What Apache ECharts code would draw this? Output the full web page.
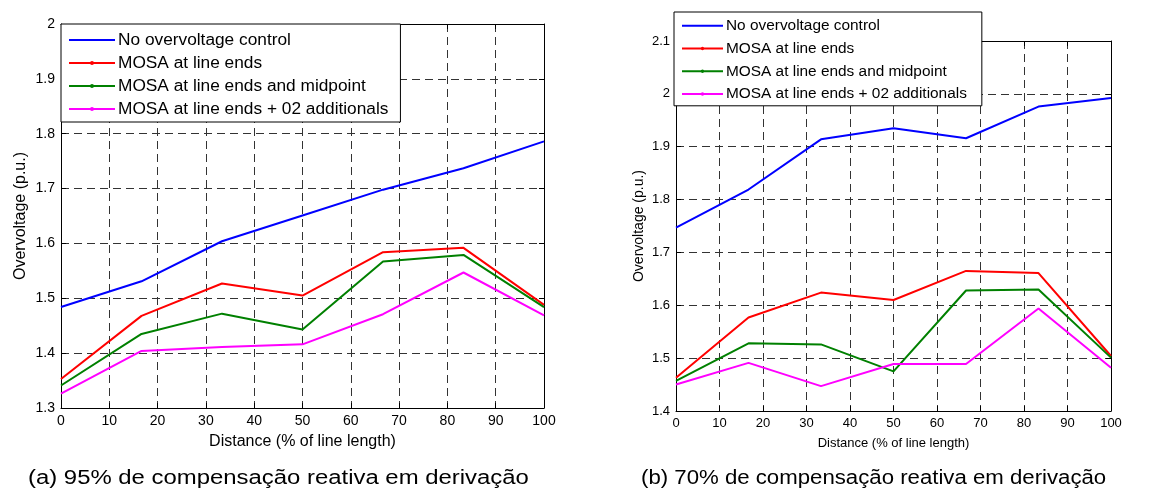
<!DOCTYPE html>
<html>
<head>
<meta charset="utf-8">
<script src="https://cdn.jsdelivr.net/npm/echarts@6/dist/echarts.min.js"></script>
<style>html,body{margin:0;padding:0;background:#fff}#c{width:1158px;height:488px}</style>
</head>
<body>
<div id="c"></div>
<script>
const distances = [0, 16.67, 33.33, 50, 66.67, 83.33, 100];
const seriesNames = ['No overvoltage control', 'MOSA at line ends', 'MOSA at line ends and midpoint', 'MOSA at line ends + 02 additionals'];
const colors = ['#0000ff', '#ff0000', '#008000', '#ff00ff'];
// (a) 95% compensation
const a_none = [1.484, 1.531, 1.604, 1.651, 1.698, 1.737, 1.786];
const a_ends = [1.353, 1.468, 1.527, 1.505, 1.584, 1.592, 1.488];
const a_mid  = [1.341, 1.435, 1.472, 1.443, 1.567, 1.579, 1.484];
const a_add  = [1.326, 1.404, 1.411, 1.416, 1.471, 1.547, 1.469];
// (b) 70% compensation
const b_none = [1.747, 1.819, 1.914, 1.935, 1.916, 1.976, 1.992];
const b_ends = [1.463, 1.577, 1.624, 1.610, 1.665, 1.661, 1.504];
const b_mid  = [1.457, 1.528, 1.526, 1.475, 1.628, 1.630, 1.501];
const b_add  = [1.450, 1.491, 1.447, 1.489, 1.489, 1.594, 1.482];
const xAxisName = 'Distance (% of line length)';
const yAxisName = 'Overvoltage (p.u.)';
const captionA = '(a) 95% de compensação reativa em derivação';
const captionB = '(b) 70% de compensação reativa em derivação';

const FONT = 'Liberation Sans, Arial, sans-serif';
const chart = echarts.init(document.getElementById('c'), null, {renderer: 'canvas'});

function pairs(vals) { return distances.map((d, i) => [d, vals[i]]); }

const gridLine = {show: true, lineStyle: {color: '#333', type: [8, 5], width: 1}};
const axLine = {show: true, onZero: false, lineStyle: {color: '#000', width: 1}};
const tick = {show: true, inside: true, length: 5, lineStyle: {color: '#000'}};

function xAxes(gi, fs, nameFs, gap) {
  return [
    {gridIndex: gi, type: 'value', min: 0, max: 100, interval: 10, position: 'bottom',
     axisLine: axLine, axisTick: tick, splitLine: gridLine,
     axisLabel: {color: '#000', fontSize: fs, fontFamily: FONT, margin: 6},
     name: xAxisName, nameLocation: 'middle', nameGap: gap,
     nameTextStyle: {color: '#000', fontSize: nameFs, fontFamily: FONT}},
    {gridIndex: gi, type: 'value', min: 0, max: 100, interval: 10, position: 'top',
     axisLine: axLine, axisTick: tick, splitLine: {show: false}, axisLabel: {show: false}}
  ];
}
function yAxes(gi, mn, mx, fs, nameFs, gap) {
  return [
    {gridIndex: gi, type: 'value', min: mn, max: mx, interval: 0.1, position: 'left',
     axisLine: axLine, axisTick: tick, splitLine: gridLine,
     axisLabel: {color: '#000', fontSize: fs, fontFamily: FONT, margin: 6,
                 formatter: v => String(parseFloat(v.toFixed(2)))},
     name: yAxisName, nameLocation: 'middle', nameGap: gap,
     nameTextStyle: {color: '#000', fontSize: nameFs, fontFamily: FONT}},
    {gridIndex: gi, type: 'value', min: mn, max: mx, interval: 0.1, position: 'right',
     axisLine: axLine, axisTick: tick, splitLine: {show: false}, axisLabel: {show: false}}
  ];
}

function mkSeries(vals, idx, xi, yi, suffix) {
  return {
    name: seriesNames[idx] + suffix, type: 'line', xAxisIndex: xi, yAxisIndex: yi,
    data: pairs(vals), symbol: 'none', showSymbol: false,
    lineStyle: {color: colors[idx], width: 2}, itemStyle: {color: colors[idx]},
    animation: false, silent: true
  };
}

const iconLine = 'path://M0,0 L46,0 L46,2.2 L0,2.2 Z';
const iconDot = 'path://M0,1.9 L46,1.9 L46,4.1 L0,4.1 Z M21,3 A2,2 0 1,1 25,3 A2,2 0 1,1 21,3 Z';
function legendData(suffix) {
  return seriesNames.map((n, i) => ({name: n + suffix, icon: i === 0 ? iconLine : iconDot}));
}

const suffixB = '\u200b';
const option = {
  backgroundColor: '#fff',
  animation: false,
  grid: [
    {left: 61, top: 24, width: 483, height: 384},
    {left: 676, top: 41, width: 435, height: 370}
  ],
  xAxis: [...xAxes(0, 14, 16, 26), ...xAxes(1, 13, 13, 26)],
  yAxis: [...yAxes(0, 1.3, 2.0, 14, 16, 32), ...yAxes(1, 1.4, 2.1, 13, 14, 30)],
  legend: [
    {data: legendData(''), orient: 'vertical', left: 61, top: 24,
     backgroundColor: '#fff', borderColor: '#000', borderWidth: 1,
     padding: [7, 12, 4, 8], itemWidth: 46, itemHeight: 12, itemGap: 5,
     symbolKeepAspect: true,
     textStyle: {color: '#000', fontSize: 17.3, fontFamily: FONT, lineHeight: 18, padding: [0,0,0,-2]}},
    {data: legendData(suffixB), orient: 'vertical', left: 674, top: 12,
     backgroundColor: '#fff', borderColor: '#000', borderWidth: 1,
     padding: [5, 15, 3, 8], itemWidth: 41, itemHeight: 12, itemGap: 5,
     symbolKeepAspect: true,
     formatter: n => n.replace(suffixB, ''),
     textStyle: {color: '#000', fontSize: 15.4, fontFamily: FONT, lineHeight: 17.7, padding: [0,0,0,-2]}}
  ],
  series: [
    mkSeries(a_none, 0, 0, 0, ''), mkSeries(a_ends, 1, 0, 0, ''), mkSeries(a_mid, 2, 0, 0, ''), mkSeries(a_add, 3, 0, 0, ''),
    mkSeries(b_none, 0, 2, 2, suffixB), mkSeries(b_ends, 1, 2, 2, suffixB), mkSeries(b_mid, 2, 2, 2, suffixB), mkSeries(b_add, 3, 2, 2, suffixB)
  ],
  graphic: [
    {type: 'text', x: 28, y: 478, scaleX: 1.195, style: {text: captionA, fill: '#000', fontSize: 20, fontFamily: FONT, align: 'left', verticalAlign: 'middle'}},
    {type: 'text', x: 641, y: 478, scaleX: 1.11, style: {text: captionB, fill: '#000', fontSize: 20, fontFamily: FONT, align: 'left', verticalAlign: 'middle'}}
  ]
};
chart.setOption(option);
</script>
</body>
</html>
